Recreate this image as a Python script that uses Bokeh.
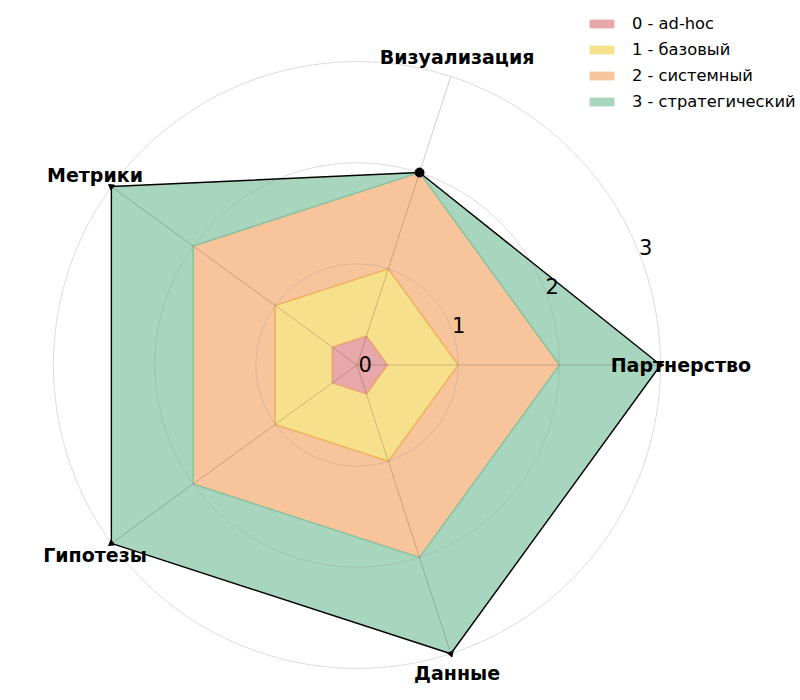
import numpy as np
from bokeh.plotting import figure
from bokeh.models import Range1d, Legend, LegendItem
from bokeh.core.properties import value
from bokeh.embed import file_html
from bokeh.resources import INLINE

# ---- data ----
categories = ["Партнерство", "Визуализация", "Метрики", "Гипотезы", "Данные"]
level_names = ["0 - ad-hoc", "1 - базовый", "2 - системный", "3 - стратегический"]
level0 = [0.3, 0.3, 0.3, 0.3, 0.3]
level1 = [1, 1, 1, 1, 1]
level2 = [2, 2, 2, 2, 2]
level3 = [3, 2, 3, 3, 3]
rticks = [0, 1, 2, 3]
rtick_labels = ["0", "1", "2", "3"]

# ---- styles ----
fill_colors = ["#e8a7a8", "#f7e08b", "#f8c49b", "#a7d5bd"]
edge_colors = ["#e9a077", "#efb262", "#8cc19c", "#8cc19c"]

W, H = 800, 698
PX = 101.2             # pixels per radial unit
CX, CY = 356.5, 364.5  # centre in figure pixels (from top-left)
x0 = -CX / PX
y0 = -(H - CY) / PX

p = figure(width=W, height=H, output_backend="svg", toolbar_location=None,
           x_range=Range1d(x0, x0 + W / PX), y_range=Range1d(y0, y0 + H / PX),
           min_border=0, outline_line_color=None)
p.axis.visible = False
p.grid.visible = False
p.background_fill_color = "white"

n = len(categories)
theta = np.arange(n) * 2 * np.pi / n


def xy(vals):
    v = np.asarray(vals, dtype=float)
    return list(v * np.cos(theta)), list(v * np.sin(theta))


levels = [level0, level1, level2, level3]
renderers = {}
# largest first so the smaller ones sit on top
for i in [3, 2, 1, 0]:
    xs, ys = xy(levels[i])
    renderers[i] = p.patch(xs, ys, fill_color=fill_colors[i], fill_alpha=1.0, line_alpha=0)

for i in [2, 1, 0]:
    xs, ys = xy(levels[i])
    p.line(xs + [xs[0]], ys + [ys[0]], line_color=edge_colors[i], line_width=1.5)

# grid circles
for r in rticks[1:]:
    p.circle(x=0, y=0, radius=r, fill_alpha=0, line_color="#9a9a9a", line_alpha=0.35, line_width=1)

# spokes
rmax = max(rticks)
p.segment(x0=[0] * n, y0=[0] * n, x1=list(rmax * np.cos(theta)), y1=list(rmax * np.sin(theta)),
          line_color="#404040", line_alpha=0.25, line_width=1)

# outline of the strategic level
xs3, ys3 = xy(level3)
p.line(xs3 + [xs3[0]], ys3 + [ys3[0]], line_color="black", line_width=1.4)
tri_idx = [0, 2, 3, 4]
p.scatter([xs3[k] for k in tri_idx], [ys3[k] for k in tri_idx], marker="triangle", size=6,
          angle=[theta[k] - np.pi / 2 for k in tri_idx], fill_color="black", line_color="black")
p.scatter([xs3[1]], [ys3[1]], marker="circle", size=9, fill_color="black", line_color="black")

# radial tick labels at 22.5 degrees
ang = np.deg2rad(22.5)
rt = np.asarray(rticks, dtype=float)
p.text(x=list(rt * np.cos(ang)), y=list(rt * np.sin(ang)), text=rtick_labels,
       text_font=value("DejaVu Sans"), text_font_size="21px", text_color="black",
       text_align="left", text_baseline="middle", x_offset=1.5, y_offset=-1.5)

# category labels
lr = 3.2
p.text(x=list(lr * np.cos(theta)), y=list(lr * np.sin(theta)), text=categories,
       text_font=value("DejaVu Sans"), text_font_size="19px", text_font_style="bold",
       text_color="black", text_align="center", text_baseline="middle")

legend = Legend(items=[LegendItem(label=level_names[i], renderers=[renderers[i]]) for i in range(4)],
                location=(586, H - 13 - 98), orientation="vertical",
                glyph_width=31, glyph_height=11, label_standoff=15, label_height=20,
                spacing=6, padding=0, margin=0,
                label_text_font="DejaVu Sans", label_text_font_size="16.3px", label_text_color="black",
                border_line_color=None, background_fill_alpha=0)
p.add_layout(legend)

open("out.html", "w").write(file_html(p, INLINE))
